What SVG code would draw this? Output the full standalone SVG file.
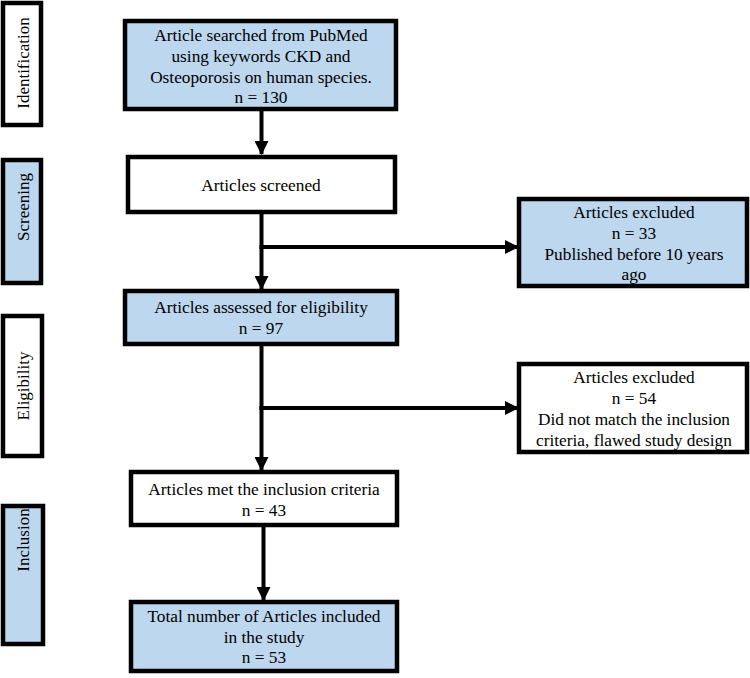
<svg xmlns="http://www.w3.org/2000/svg" width="750" height="678" viewBox="0 0 750 678">
<defs>
<style>
.box{stroke:#000;stroke-width:4.5}
.blue{fill:#BDD7EE}
.white{fill:#FFFFFF}
text{font-family:'Liberation Serif','Times New Roman',Times,'DejaVu Serif',serif;font-size:17.3px;fill:#000;text-anchor:middle}
.lbl{font-size:17px}
.conn{stroke:#000;stroke-width:4;fill:none}
</style>
<marker id="arr" markerWidth="14" markerHeight="14" refX="13" refY="7" orient="auto" markerUnits="userSpaceOnUse">
<path d="M0,0 L14,7 L0,14 Z" fill="#000"/>
</marker>
</defs>
<rect width="750" height="678" fill="#fff"/>

<g id="stage-identification">
<rect class="box white" x="3" y="3" width="38" height="122"/>
<text class="lbl" font-family="Liberation Serif, serif" transform="translate(29,63) rotate(-90)">Identification</text>
</g>
<g id="stage-screening">
<rect class="box blue" x="3" y="160" width="38" height="123"/>
<text class="lbl" transform="translate(29,207) rotate(-90)">Screening</text>
</g>
<g id="stage-eligibility">
<rect class="box white" x="3" y="316" width="39" height="140"/>
<text class="lbl" transform="translate(29,386) rotate(-90)">Eligibility</text>
</g>
<g id="stage-inclusion">
<rect class="box blue" x="3" y="506" width="40" height="138"/>
<text class="lbl" transform="translate(29,540) rotate(-90)">Inclusion</text>
</g>

<g id="connectors">
<line class="conn" x1="261.5" y1="111" x2="261.5" y2="154" marker-end="url(#arr)"/>
<line class="conn" x1="261.5" y1="214" x2="261.5" y2="289" marker-end="url(#arr)"/>
<line class="conn" x1="259.5" y1="247" x2="518" y2="247" marker-end="url(#arr)"/>
<line class="conn" x1="261.5" y1="346" x2="261.5" y2="470" marker-end="url(#arr)"/>
<line class="conn" x1="259.5" y1="408" x2="518" y2="408" marker-end="url(#arr)"/>
<line class="conn" x1="263.5" y1="527" x2="263.5" y2="600" marker-end="url(#arr)"/>
</g>

<g id="node-search">
<rect class="box blue" x="125" y="21" width="271" height="88"/>
<text x="261" y="41">Article searched from PubMed</text>
<text x="261" y="62">using keywords CKD and</text>
<text x="261" y="83">Osteoporosis on human species.</text>
<text x="261" y="103">n = 130</text>
</g>
<g id="node-screened">
<rect class="box white" x="128" y="157" width="267" height="55"/>
<text x="261" y="191">Articles screened</text>
</g>
<g id="node-excluded1">
<rect class="box blue" x="519" y="199" width="228" height="87"/>
<text x="634" y="218">Articles excluded</text>
<text x="634" y="239">n = 33</text>
<text x="634" y="260">Published before 10 years</text>
<text x="634" y="280">ago</text>
</g>
<g id="node-assessed">
<rect class="box blue" x="125" y="291" width="272" height="53"/>
<text x="261" y="313">Articles assessed for eligibility</text>
<text x="261" y="334">n = 97</text>
</g>
<g id="node-excluded2">
<rect class="box white" x="519" y="364" width="228" height="88"/>
<text x="634" y="383">Articles excluded</text>
<text x="634" y="404">n = 54</text>
<text x="634" y="425">Did not match the inclusion</text>
<text x="634" y="446">criteria, flawed study design</text>
</g>
<g id="node-met">
<rect class="box white" x="131" y="472" width="266" height="53"/>
<text x="264" y="495">Articles met the inclusion criteria</text>
<text x="264" y="516">n = 43</text>
</g>
<g id="node-final">
<rect class="box blue" x="131" y="602" width="266" height="69"/>
<text x="264" y="622">Total number of Articles included</text>
<text x="264" y="643">in the study</text>
<text x="264" y="663">n = 53</text>
</g>
</svg>
